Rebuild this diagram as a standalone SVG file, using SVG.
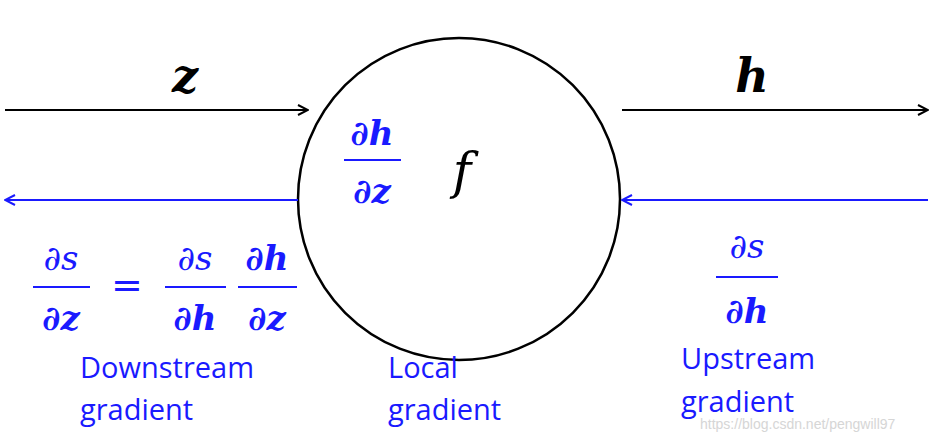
<svg xmlns="http://www.w3.org/2000/svg" width="936" height="435" viewBox="0 0 936 435">
<style>
.m{font-family:"DejaVu Serif","Liberation Serif",serif;font-style:italic;fill:#1a1aff}
.k{font-family:"DejaVu Serif","Liberation Serif",serif;font-style:italic;fill:#000}
.b{font-weight:bold}
.lbl{font-family:"Open Sans","Liberation Sans",sans-serif;font-size:29px;fill:#1a1aff}
.fl{stroke:#1a1aff;stroke-width:2}
</style>
<defs>
<marker id="ak" markerWidth="12" markerHeight="12" refX="11" refY="6" orient="auto" markerUnits="userSpaceOnUse"><path d="M1,1 L11,6 L1,11" fill="none" stroke="#000" stroke-width="2"/></marker>
<marker id="ab" markerWidth="12" markerHeight="12" refX="11" refY="6" orient="auto" markerUnits="userSpaceOnUse"><path d="M1,1 L11,6 L1,11" fill="none" stroke="#1a1aff" stroke-width="2"/></marker>
</defs>
<rect width="936" height="435" fill="#fff"/>
<g id="node-f">
<circle cx="459" cy="199" r="161" fill="none" stroke="#000" stroke-width="2.5"/>
<text class="k" x="462" y="188" font-size="50" text-anchor="middle">f</text>
<text class="m b" x="372" y="145" font-size="34" text-anchor="middle">∂h</text>
<line class="fl" x1="344" y1="160" x2="401" y2="160"/>
<text class="m b" x="372" y="203" font-size="34" text-anchor="middle">∂z</text>
</g>
<g id="connectors">
<line x1="5" y1="110" x2="308" y2="110" stroke="#000" stroke-width="2" marker-end="url(#ak)"/>
<line x1="622" y1="110" x2="928" y2="110" stroke="#000" stroke-width="2" marker-end="url(#ak)"/>
<line x1="298" y1="200" x2="5" y2="200" stroke="#1a1aff" stroke-width="2" marker-end="url(#ab)"/>
<line x1="928" y1="200" x2="622" y2="200" stroke="#1a1aff" stroke-width="2" marker-end="url(#ab)"/>
</g>
<g id="labels">
<text class="k b" x="185" y="92" font-size="46" text-anchor="middle">z</text>
<text class="k b" x="752" y="92" font-size="46" text-anchor="middle">h</text>
<text class="m" x="61" y="270" font-size="34" text-anchor="middle">∂s</text>
<line class="fl" x1="33" y1="287" x2="90" y2="287"/>
<text class="m b" x="61" y="330" font-size="34" text-anchor="middle">∂z</text>
<text x="127" y="298" font-family="DejaVu Serif,serif" font-size="38" fill="#1a1aff" text-anchor="middle">=</text>
<text class="m" x="195" y="270" font-size="34" text-anchor="middle">∂s</text>
<line class="fl" x1="165" y1="287" x2="226" y2="287"/>
<text class="m b" x="195" y="330" font-size="34" text-anchor="middle">∂h</text>
<text class="m b" x="267" y="270" font-size="34" text-anchor="middle">∂h</text>
<line class="fl" x1="238" y1="287" x2="297" y2="287"/>
<text class="m b" x="267" y="330" font-size="34" text-anchor="middle">∂z</text>
<text class="m" x="747" y="258" font-size="34" text-anchor="middle">∂s</text>
<line class="fl" x1="716" y1="277" x2="778" y2="277"/>
<text class="m b" x="747" y="323" font-size="34" text-anchor="middle">∂h</text>
<text class="lbl" x="80" y="378">Downstream</text>
<text class="lbl" x="80" y="420">gradient</text>
<text class="lbl" x="388" y="378">Local</text>
<text class="lbl" x="388" y="420">gradient</text>
<text class="lbl" x="681" y="369">Upstream</text>
<text class="lbl" x="681" y="412">gradient</text>
<text x="700" y="429" font-family="Liberation Sans,sans-serif" font-size="14" fill="#ccc" opacity="0.8">https://blog.csdn.net/pengwill97</text>
</g>
</svg>
